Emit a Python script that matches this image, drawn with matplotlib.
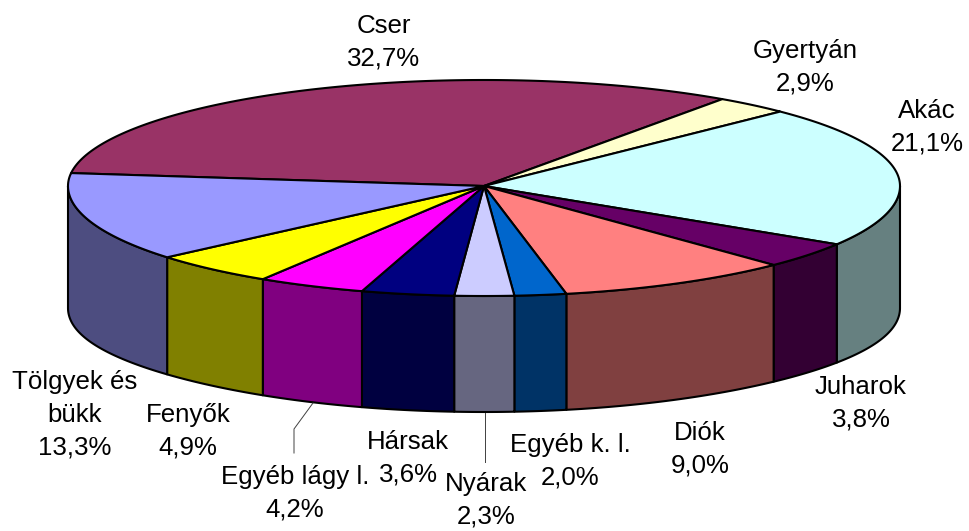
import matplotlib
matplotlib.use("Agg")
import matplotlib.pyplot as plt
import numpy as np

plt.rcParams['font.family'] = ['Liberation Sans', 'DejaVu Sans']

names = ["Cser", "Gyertyán", "Akác", "Juharok", "Diók", "Egyéb k. l.", "Nyárak",
         "Hársak", "Egyéb lágy l.", "Fenyők", "Tölgyek és\nbükk"]
values = [32.7, 2.9, 21.1, 3.8, 9.0, 2.0, 2.3, 3.6, 4.2, 4.9, 13.3]
top_colors = ["#993366", "#FFFFCC", "#CCFFFF", "#660066", "#FF8080", "#0066CC",
              "#CCCCFF", "#000080", "#FF00FF", "#FFFF00", "#9999FF"]
side_colors = ["#4D1A33", "#808066", "#668080", "#330033", "#804040", "#003366",
               "#666680", "#000040", "#800080", "#808000", "#4D4D80"]

# where the labels sit, in image pixels
label_pos = [(384, 42), (805, 67), (927, 127), (861, 403), (700, 449), (570, 461),
             (486, 500), (408, 458), (295, 493), (188, 431), (75, 415)]

# pie geometry in image pixels
cx, cy = 484, 186
rx = 416
ry_top, ry_bottom = 106, 110
depth = 116
start = 173


def rim(angles):
    a = np.radians(angles)
    # the front of the pie is a bit spread out by the perspective
    a = a + np.radians(0.9) * np.minimum(np.sin(a), 0)
    s = np.sin(a)
    return cx + rx * np.cos(a), cy - np.where(s > 0, ry_top, ry_bottom) * s


def wall(angles):
    return depth + 6 * np.cos(np.radians(angles)) ** 6


fig = plt.figure(figsize=(9.69, 5.31), dpi=100)
ax = fig.add_axes([0, 0, 1, 1])
ax.set_xlim(0, 969)
ax.set_ylim(531, 0)
ax.axis("off")

edges = start - 360 * np.cumsum([0] + values) / sum(values)

for i in range(len(values)):
    hi, lo = edges[i], edges[i + 1]

    # side wall, only on the front half
    s_hi, s_lo = min(hi, 0), max(lo, -180)
    if s_hi > s_lo:
        angs = np.linspace(s_hi, s_lo, 60)
        x, y = rim(angs)
        ax.fill(np.r_[x, x[::-1]], np.r_[y, (y + wall(angs))[::-1]],
                facecolor=side_colors[i], edgecolor="black", lw=1.5, joinstyle="round")

for i in range(len(values)):
    x, y = rim(np.linspace(edges[i], edges[i + 1], 120))
    ax.fill(np.r_[cx, x], np.r_[cy, y],
            facecolor=top_colors[i], edgecolor="black", lw=1.5, joinstyle="round")

# leader lines
ax.plot([313, 294, 294], [403, 429, 453], color="#404040", lw=0.7)
ax.plot([485, 485], [413, 462], color="#404040", lw=0.7)

for name, val, (lx, ly) in zip(names, values, label_pos):
    label = name + "\n" + f"{val:.1f}%".replace(".", ",")
    ax.text(lx, ly, label, ha="center", va="center", fontsize=18.6,
            linespacing=1.47, color="black")

fig.savefig("out.png", dpi=100)
